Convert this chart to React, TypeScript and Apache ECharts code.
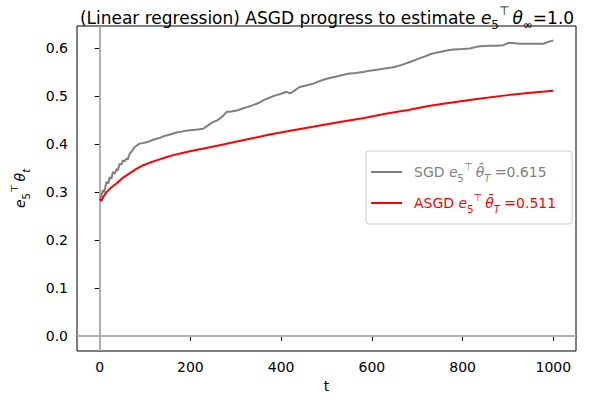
import React, { useEffect, useRef } from "react";
import * as echarts from "echarts";

// SGD iterate (gray) — t and value
const sgdT = [0, 3, 7, 10, 15, 19, 22, 26, 29, 33, 37, 40, 44, 48, 51, 55, 59, 62, 66, 72, 77, 82, 88, 95, 103, 110, 118, 125, 133, 140, 147, 155, 162, 169, 180, 190, 199, 210, 220, 228, 234, 239, 245, 250, 258, 265, 272, 280, 290, 302, 312, 324, 335, 346, 355, 360, 370, 380, 390, 400, 412, 418, 423, 430, 441, 455, 471, 482, 493, 505, 522, 535, 551, 565, 581, 595, 611, 625, 640, 652, 662, 672, 684, 695, 706, 718, 728, 745, 765, 780, 800, 816, 828, 838, 860, 875, 890, 901, 915, 927, 945, 960, 978, 989, 1000];
const sgdV = [0.283, 0.29, 0.304, 0.3, 0.321, 0.318, 0.331, 0.328, 0.342, 0.338, 0.348, 0.345, 0.359, 0.357, 0.366, 0.364, 0.37, 0.368, 0.38, 0.386, 0.394, 0.397, 0.401, 0.402, 0.404, 0.406, 0.409, 0.411, 0.413, 0.416, 0.418, 0.42, 0.422, 0.424, 0.426, 0.428, 0.429, 0.43, 0.431, 0.432, 0.436, 0.439, 0.443, 0.446, 0.449, 0.453, 0.459, 0.467, 0.468, 0.47, 0.473, 0.477, 0.48, 0.484, 0.488, 0.491, 0.495, 0.499, 0.502, 0.505, 0.509, 0.506, 0.507, 0.512, 0.519, 0.522, 0.526, 0.53, 0.534, 0.537, 0.541, 0.544, 0.547, 0.548, 0.55, 0.553, 0.555, 0.557, 0.559, 0.561, 0.564, 0.567, 0.571, 0.575, 0.579, 0.583, 0.587, 0.591, 0.595, 0.597, 0.598, 0.599, 0.602, 0.604, 0.605, 0.605, 0.606, 0.611, 0.61, 0.609, 0.609, 0.609, 0.609, 0.613, 0.616];

// ASGD averaged iterate (red)
const asgdT = [0, 4, 8, 15, 25, 37, 50, 66, 80, 96, 110, 125, 145, 162, 180, 199, 235, 272, 300, 331, 375, 420, 470, 529, 580, 630, 680, 728, 780, 840, 900, 950, 1000];
const asgdV = [0.285, 0.282, 0.29, 0.3, 0.309, 0.318, 0.329, 0.339, 0.348, 0.356, 0.361, 0.366, 0.372, 0.377, 0.381, 0.385, 0.392, 0.399, 0.405, 0.411, 0.42, 0.428, 0.436, 0.446, 0.454, 0.463, 0.471, 0.48, 0.487, 0.495, 0.502, 0.507, 0.511];

const xTicks = [0, 200, 400, 600, 800, 1000];
const yTicks = [0, 0.1, 0.2, 0.3, 0.4, 0.5, 0.6];

const FONT = "DejaVu Sans";

export default function App() {
  const ref = useRef<HTMLDivElement>(null);
  useEffect(() => {
    if (!ref.current) return;
    const chart = echarts.init(ref.current, null, { renderer: "svg" });
    const sgdData = sgdT.map((t, i) => [t, sgdV[i]]);
    const asgdData = asgdT.map((t, i) => [t, asgdV[i]]);

    const mathRich = (color: string, size: number, lh: number) => {
      const s = Math.round(size * 0.7);
      return {
        n: { fontFamily: FONT, fontSize: size, fontWeight: "normal", color, lineHeight: lh },
        i: { fontFamily: FONT, fontSize: size, fontWeight: "normal", color, fontStyle: "italic", lineHeight: lh },
        sub: { fontFamily: FONT, fontSize: s, fontWeight: "normal", color, lineHeight: s, verticalAlign: "bottom" },
        subi: { fontFamily: FONT, fontSize: s, fontWeight: "normal", color, fontStyle: "italic", lineHeight: s, verticalAlign: "bottom" },
        sup: { fontFamily: FONT, fontSize: s, fontWeight: "normal", color, lineHeight: s, verticalAlign: "top", padding: [0, 3, 0, 0] },
      };
    };

    const grayRich = mathRich("#7f7f7f", 14, 22);
    const redRich = mathRich("#ff0000", 14, 22);
    const legendRich: any = {};
    Object.keys(grayRich).forEach((k) => {
      legendRich["g" + k] = (grayRich as any)[k];
      legendRich["r" + k] = (redRich as any)[k];
    });
    legendRich.gfirst = { ...grayRich.n, padding: [0, 0, 0, 7] };
    legendRich.rfirst = { ...redRich.n, padding: [0, 0, 0, 7] };

    chart.setOption({
      animation: false,
      backgroundColor: "#ffffff",
      textStyle: { fontFamily: FONT },
      title: {
        text: "{n|(Linear regression) ASGD progress to estimate }{i|e}{sub|5}{sup|⊤}{i|θ}{sub|∞}{n|=1.0}",
        left: 322,
        textAlign: "center",
        top: 0,
        textStyle: { fontWeight: "normal", rich: mathRich("#000000", 17, 26) },
      },
      grid: {
        left: 77,
        right: 24,
        top: 26,
        bottom: 51,
        show: true,
        borderColor: "#000000",
        borderWidth: 1,
        backgroundColor: "transparent",
      },
      legend: {
        orient: "vertical",
        left: 366,
        top: 151,
        padding: [10, 16, 10, 5],
        itemGap: 9,
        itemWidth: 31,
        itemHeight: 2,
        icon: "rect",
        borderColor: "#cccccc",
        borderWidth: 1,
        borderRadius: 3,
        backgroundColor: "rgba(255,255,255,0.8)",
        data: ["SGD", "ASGD"],
        formatter: (name: string) =>
          name === "SGD"
            ? "{gfirst|SGD }{gi|e}{gsub|5}{gsup|⊤}{gi|θ̂}{gsubi|T}{gn| =0.615}"
            : "{rfirst|ASGD }{ri|e}{rsub|5}{rsup|⊤}{ri|θ̄}{rsubi|T}{rn| =0.511}",
        textStyle: { fontFamily: FONT, fontSize: 14, rich: legendRich },
      },
      xAxis: {
        type: "value",
        min: -50,
        max: 1050,
        name: "t",
        nameLocation: "middle",
        nameGap: 28,
        nameTextStyle: { fontFamily: FONT, fontSize: 14, color: "#000" },
        axisLine: { show: true, lineStyle: { color: "#000", width: 1 } },
        axisTick: { show: true, length: 5, lineStyle: { color: "#000" }, customValues: xTicks },
        axisLabel: { fontFamily: FONT, fontSize: 14, color: "#000", margin: 9, customValues: xTicks, formatter: (v: number) => String(v) },
        splitLine: { show: false },
      },
      yAxis: {
        type: "value",
        min: -0.031,
        max: 0.646,
        name: "{i|e}{sub|5}{sup|⊤}{i|θ}{subi|t}",
        nameLocation: "middle",
        nameGap: 46,
        nameRotate: 90,
        nameTextStyle: { rich: mathRich("#000000", 14, 22) },
        axisLine: { show: true, lineStyle: { color: "#000", width: 1 } },
        axisTick: { show: true, length: 5, lineStyle: { color: "#000" }, customValues: yTicks },
        axisLabel: { fontFamily: FONT, fontSize: 14, color: "#000", margin: 9, customValues: yTicks, formatter: (v: number) => v.toFixed(1) },
        splitLine: { show: false },
      },
      series: [
        {
          name: "SGD",
          type: "line",
          data: sgdData,
          showSymbol: false,
          symbol: "none",
          lineStyle: { color: "#7f7f7f", width: 2 },
          itemStyle: { color: "#7f7f7f" },
          z: 3,
          markLine: {
            silent: true,
            symbol: ["none", "none"],
            label: { show: false },
            lineStyle: { color: "#b0b0b0", width: 2, type: "solid" },
            data: [{ xAxis: 0 }, { yAxis: 0 }],
            z: 1,
          },
        },
        {
          name: "ASGD",
          type: "line",
          data: asgdData,
          showSymbol: false,
          symbol: "none",
          lineStyle: { color: "#ff0000", width: 2 },
          itemStyle: { color: "#ff0000" },
          z: 4,
        },
      ],
    });
    return () => chart.dispose();
  }, []);
  return <div ref={ref} style={{ position: "fixed", left: 0, top: 0, width: 600, height: 402, background: "#fff" }} />;
}
